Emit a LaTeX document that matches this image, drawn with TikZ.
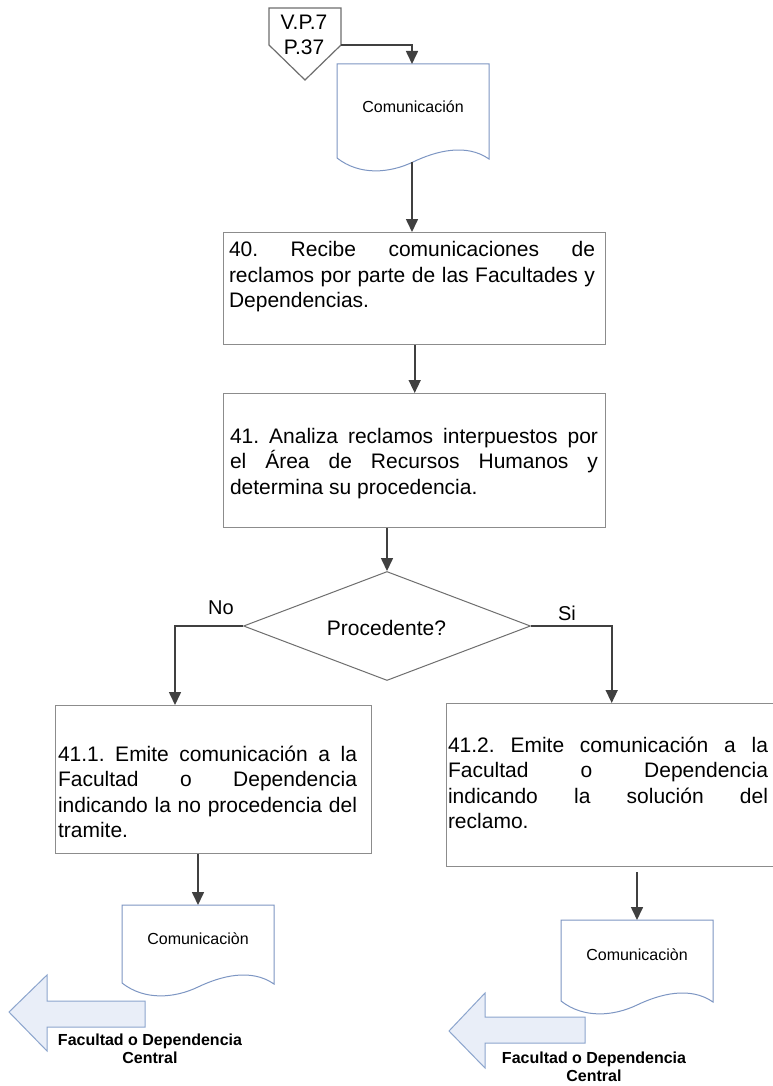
\documentclass[tikz,border=0pt]{standalone}
\usepackage{fontspec}
\setmainfont{Liberation Sans}
\usetikzlibrary{arrows.meta,shapes.geometric}
\frenchspacing
\definecolor{boxgray}{RGB}{140,140,140}
\definecolor{linegray}{RGB}{64,64,64}
\definecolor{docblue}{RGB}{125,150,195}
\definecolor{arrfill}{RGB}{233,238,248}
\definecolor{arrline}{RGB}{140,165,205}
\definecolor{diagray}{RGB}{110,110,110}
\newcommand{\SL}[2]{\makebox[#1][s]{#2}}
\newcommand{\LL}[2]{\makebox[#1][l]{#2}}
\newcommand{\DocShape}[3]{%
  \begin{scope}[shift={(#1,#2)}]
    \draw[docline] (0,0) -- (152,0) -- (152,{#3+1})
      .. controls (129,{#3-15}) and (99,{#3-7}) .. (76,{#3+4})
      .. controls (53,{#3+15}) and (23,{#3+18}) .. (0,#3) -- cycle;
  \end{scope}}
\tikzset{
  procbox/.style={draw=boxgray, line width=1.4pt, fill=white, inner sep=0pt, anchor=north west},
  boxtext/.style={align=left, inner sep=0pt, font=\fontsize{21}{25.5}\selectfont},
  conn/.style={draw=linegray, line width=1.6pt, -{Triangle[length=13pt,width=12pt]}},
  docline/.style={draw=docblue, line width=1pt, fill=white},
  doctext/.style={inner sep=0pt, font=\fontsize{16}{19}\selectfont},
  lbl/.style={inner sep=0pt, font=\fontsize{20}{24}\selectfont},
  bigarrow/.style={draw=arrline, line width=1pt, fill=arrfill},
  exitlbl/.style={align=center, inner sep=0pt, font=\bfseries\fontsize{16}{18}\selectfont},
}
\begin{document}
\begin{tikzpicture}[x=1pt,y=-1pt]
\useasboundingbox (0,0) rectangle (773,1086);
\fill[white] (0,0) rectangle (773,1086);

% off-page connector
\draw[draw=diagray, line width=1.2pt, fill=white] (269,8) -- (341,8) -- (341,45) -- (305,80) -- (269,45) -- cycle;
\node[align=center, inner sep=0pt, font=\fontsize{21}{25}\selectfont] (vp) at (304,35) {V.P.7\\P.37};
\coordinate (vpR) at (341,45);

% document 1
\DocShape{337}{64}{94}
\node[doctext] (d1) at (413,107) {Comunicación};
\coordinate (d1top) at (412,64);
\coordinate (d1bot) at (412,162);

% process boxes
\node[procbox, minimum width=382pt, minimum height=112pt] (b1) at (223,232) {};
\node[boxtext] (t1) at (412,277) {\SL{366pt}{40. Recibe comunicaciones de}\\
  \SL{366pt}{reclamos por parte de las Facultades y}\\
  \LL{366pt}{Dependencias.}};

\node[procbox, minimum width=382pt, minimum height=134pt] (b2) at (223,393) {};
\node[boxtext] (t2) at (414,463.5) {\SL{368pt}{41. Analiza reclamos interpuestos por}\\
  \SL{368pt}{el Área de Recursos Humanos y}\\
  \LL{368pt}{determina su procedencia.}};

% decision
\node[diamond, draw=diagray, line width=1pt, fill=white, minimum width=287pt, minimum height=109pt, inner sep=0pt] (dia) at (387,626) {};
\node[lbl, font=\fontsize{21}{25}\selectfont] (diat) at (386.5,628) {Procedente?};
\node[lbl] (no) at (221,608) {No};
\node[lbl] (si) at (567,613) {Si};

\node[procbox, minimum width=316pt, minimum height=148pt] (b3) at (55,705) {};
\node[boxtext] (t3) at (207.5,792) {\SL{299pt}{41.1. Emite comunicación a la}\\
  \SL{299pt}{Facultad o Dependencia}\\
  \SL{299pt}{indicando la no procedencia del}\\
  \LL{299pt}{tramite.}};
\coordinate (b3in) at (175,705);

\node[procbox, minimum width=330pt, minimum height=163pt] (b4) at (446,703) {};
\node[boxtext] (t4) at (608,783) {\SL{320pt}{41.2. Emite comunicación a la}\\
  \SL{320pt}{Facultad o Dependencia}\\
  \SL{320pt}{indicando la solución del}\\
  \LL{320pt}{reclamo.}};

% documents 2 and 3
\DocShape{122}{905}{78}
\node[doctext] (d2) at (198,939) {Comunicaciòn};
\coordinate (d2top) at (198,905);

\DocShape{561}{920}{81}
\node[doctext] (d3) at (637,955) {Comunicaciòn};
\coordinate (d3top) at (637,920);
\coordinate (d3src) at (637,872);

% exit arrows
\draw[bigarrow] (9,1012) -- (47,975) -- (47,1001) -- (145,1001) -- (145,1027) -- (47,1027) -- (47,1051) -- cycle;
\node[exitlbl] (x1) at (150,1049) {Facultad o Dependencia\\Central};
\draw[bigarrow] (449,1031) -- (485,993) -- (485,1017) -- (585,1017) -- (585,1043) -- (485,1043) -- (485,1068) -- cycle;
\node[exitlbl] (x2) at (594,1067) {Facultad o Dependencia\\Central};

% connectors
\draw[conn] (vpR) -| (d1top);
\draw[conn] (d1bot) -- (d1bot |- b1.north);
\draw[conn] (b1.south) -- (b2.north);
\draw[conn] (dia.north |- b2.south) -- (dia.north);
\draw[conn] (dia.west) -| (b3in);
\draw[conn] (dia.east) -| (b4.north);
\draw[conn] (d2top |- b3.south) -- (d2top);
\draw[conn] (d3src) -- (d3top);
\end{tikzpicture}
\end{document}
